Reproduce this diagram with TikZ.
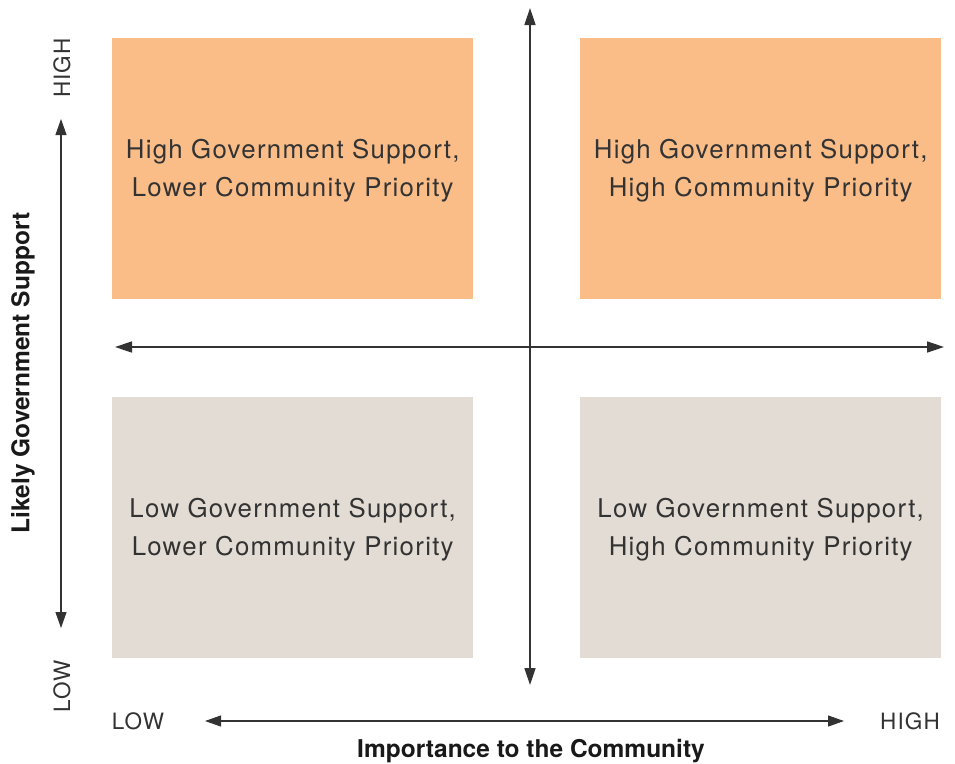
\documentclass[tikz,border=0pt]{standalone}
\usepackage{fontspec}
\setmainfont{TeX Gyre Heros}
\newfontfamily\spacedfont[LetterSpace=5]{TeX Gyre Heros}
\usetikzlibrary{arrows.meta}
\definecolor{hiorange}{HTML}{FABD88}
\definecolor{lowgray}{HTML}{E3DCD4}
\definecolor{inkgray}{HTML}{333333}
\begin{document}
\begin{tikzpicture}[x=1pt,y=-1pt,
  quad/.style={minimum width=361pt,minimum height=261pt,anchor=north west,inner sep=0pt},
  quad text/.style={align=center,inner sep=0pt,font=\spacedfont\fontsize{25.8}{38}\selectfont,text=inkgray},
  axis/.style={line width=1.6pt,draw=black!80,{Triangle[length=17pt,width=11pt]}-{Triangle[length=17pt,width=11pt]}},
  thin axis/.style={line width=1.1pt,draw=black!80,{Triangle[length=16pt,width=11pt]}-{Triangle[length=16pt,width=11pt]}},
  scale label/.style={font=\spacedfont\fontsize{22.5}{24}\selectfont,text=inkgray,inner sep=0pt},
  axis title/.style={font=\bfseries\fontsize{24.5}{26}\selectfont,text=black!90,inner sep=0pt}]
\useasboundingbox (0,0) rectangle (955,763);
% quadrants
\node[quad,fill=hiorange] (tl) at (112,38) {};
\node[quad,fill=hiorange] (tr) at (580,38) {};
\node[quad,fill=lowgray] (bl) at (112,397) {};
\node[quad,fill=lowgray] (br) at (580,397) {};
\node[quad text] (tltext) at ([yshift=-2pt]tl.center) {High Government Support,\\Lower Community Priority};
\node[quad text] (trtext) at ([yshift=-2pt]tr.center) {High Government Support,\\High Community Priority};
\node[quad text] (bltext) at ([yshift=-2pt]bl.center) {Low Government Support,\\Lower Community Priority};
\node[quad text] (brtext) at ([yshift=-2pt]br.center) {Low Government Support,\\High Community Priority};
% central cross
\coordinate (vtop) at (530,8);
\coordinate (vbot) at (530,685);
\coordinate (hleft) at (115,347);
\coordinate (hright) at (944,347);
\draw[axis] (vbot) -- (vtop);
\draw[axis] (hleft) -- (hright);
% vertical scale
\node[scale label,rotate=90] (yhigh) at (62,68) {HIGH};
\node[scale label,rotate=90] (ylow) at (62,686) {LOW};
\coordinate (ytop) at (61,119);
\coordinate (ybot) at (61,628);
\draw[thin axis] (ybot) -- (ytop);
\node[axis title,rotate=90] (ytitle) at (23,373) {Likely Government Support};
% horizontal scale
\node[scale label] (xlow) at (138,721) {LOW};
\node[scale label] (xhigh) at (910,721) {HIGH};
\coordinate (xleft) at (205,721);
\coordinate (xright) at (844,721);
\draw[thin axis] (xleft) -- (xright);
\node[axis title] (xtitle) at (531,751) {Importance to the Community};
\end{tikzpicture}
\end{document}
